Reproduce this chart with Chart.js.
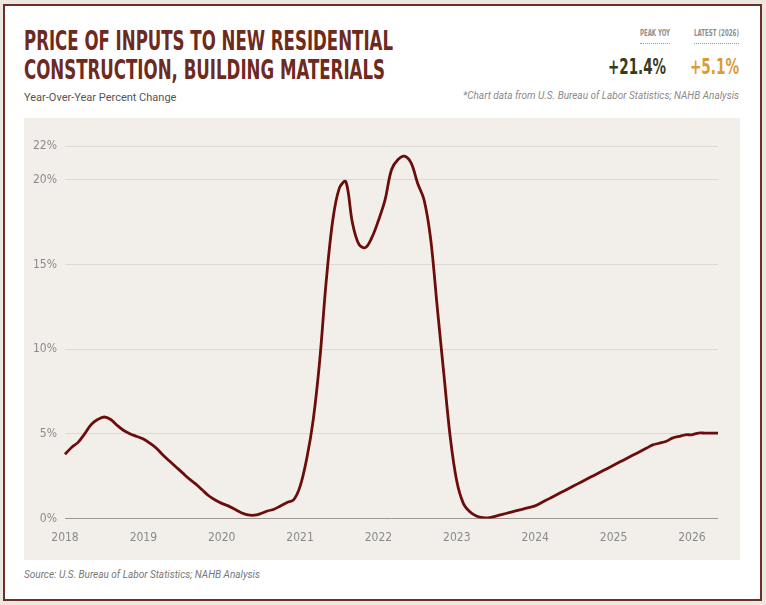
<!DOCTYPE html>
<html>
<head>
<meta charset="utf-8">
<script src="https://cdn.jsdelivr.net/npm/chart.js@4"></script>
<style>
  html, body { margin: 0; padding: 0; }
  body { width: 766px; height: 605px; background: #ebe7e1; position: relative; overflow: hidden;
         font-family: 'Liberation Sans Narrow', 'DejaVu Sans Condensed', Roboto, sans-serif; }
  #card { position: absolute; left: 3px; top: 4px; width: 759px; height: 597px; box-sizing: border-box;
          border: 2px solid #6b2f25; background: #ffffff; }
  .abs { position: absolute; white-space: nowrap; }
  .fit { transform-origin: left top; display: inline-block; }
  .title { color: #6e2a1c; font-weight: bold; font-size: 27px; line-height: 27px;
           font-family: 'Liberation Sans Narrow', 'DejaVu Sans Condensed', sans-serif; }
  .sub { color: #555; font-size: 11px; font-family: Roboto, sans-serif; }
  .kw { font-size: 9px; line-height: 9px; }
  .kl { color: #8f8f8f; font-size: 9px; line-height: 9px; font-weight: bold;
        font-family: 'Liberation Sans Narrow', 'DejaVu Sans Condensed', sans-serif; }
  .dots { position: absolute; height: 0; border-top: 1px dotted #999; }
  .kv { font-weight: bold; font-size: 21px; line-height: 21px;
        font-family: 'Liberation Sans Narrow', 'DejaVu Sans Condensed', sans-serif; }
  .note { color: #8a8a8a; font-size: 10px; font-style: italic; font-family: Roboto, sans-serif; }
  #panel { position: absolute; left: 24px; top: 118px; width: 716px; height: 442px; background: #f2efea; }
  #chartBox { position: absolute; left: 0; top: 0; width: 716px; height: 442px; }
</style>
</head>
<body>
<div id="card"></div>
<div class="abs" style="left:24px;top:27px;"><span class="fit title" data-w="369">PRICE OF INPUTS TO NEW RESIDENTIAL</span></div>
<div class="abs" style="left:24px;top:56px;"><span class="fit title" data-w="361">CONSTRUCTION, BUILDING MATERIALS</span></div>
<div class="abs sub" style="left:24px;top:91px;">Year-Over-Year Percent Change</div>

<div class="abs kw" style="left:640px;top:29px;"><span class="fit kl" data-w="30">PEAK YOY</span></div>
<div class="abs kw" style="left:694px;top:29px;"><span class="fit kl" data-w="45">LATEST (2026)</span></div>
<div class="dots" style="left:640px;top:43px;width:30px;"></div>
<div class="dots" style="left:694px;top:43px;width:45px;"></div>
<div class="abs" style="left:608px;top:57px;"><span class="fit kv" data-w="58" style="color:#363b20;">+21.4%</span></div>
<div class="abs" style="left:690px;top:57px;"><span class="fit kv" data-w="49" style="color:#d99b3a;">+5.1%</span></div>
<div class="abs note" style="right:27px;top:90px;">*Chart data from U.S. Bureau of Labor Statistics; NAHB Analysis</div>

<div id="panel"><div id="chartBox"><canvas id="c"></canvas></div></div>
<div class="abs note" style="left:24px;top:569px;color:#777;">Source: U.S. Bureau of Labor Statistics; NAHB Analysis</div>

<script>
// Monthly, Jan 2018 .. May 2026
const startYear = 2018;
const months = [];
for (let i = 0; i < 101; i++) {
  const y = startYear + Math.floor(i / 12);
  const m = (i % 12) + 1;
  months.push(y + '-' + (m < 10 ? '0' + m : m));
}
const yoyChange = [
  3.8, 4.2, 4.5, 5.0, 5.55, 5.85, 6.0, 5.85, 5.5, 5.2, 5.0, 4.85,
  4.7, 4.45, 4.15, 3.75, 3.4, 3.05, 2.7, 2.35, 2.05, 1.7, 1.35, 1.1,
  0.9, 0.75, 0.55, 0.35, 0.22, 0.2, 0.3, 0.45, 0.55, 0.75, 0.95, 1.1,
  1.9, 3.5, 5.8, 9.3, 14.0, 17.6, 19.5, 19.9, 17.5, 16.2, 16.0, 16.6,
  17.6, 18.8, 20.6, 21.2, 21.4, 21.0, 19.8, 18.8, 16.5, 12.5, 8.6, 4.8,
  2.2, 0.9, 0.4, 0.15, 0.05, 0.05, 0.15, 0.25, 0.35, 0.45, 0.55, 0.65,
  0.75, 0.95, 1.15, 1.35, 1.55, 1.75, 1.95, 2.15, 2.35, 2.55, 2.75, 2.95,
  3.15, 3.35, 3.55, 3.75, 3.95, 4.15, 4.35, 4.45, 4.55, 4.75, 4.85, 4.95,
  4.95, 5.05, 5.05, 5.05, 5.05
];
const yTickValues = [0, 5, 10, 15, 20, 22];

// fit condensed headline text to reference widths
document.querySelectorAll('.fit').forEach(el => {
  const w = el.getBoundingClientRect().width;
  const t = parseFloat(el.dataset.w);
  if (w > 0) el.style.transform = 'scaleX(' + (t / w) + ')';
});

const tickFont = { family: "'Liberation Sans Narrow', 'DejaVu Sans Condensed', sans-serif", size: 12 };

new Chart(document.getElementById('c'), {
  type: 'line',
  data: {
    labels: months,
    datasets: [{
      data: yoyChange,
      borderColor: '#6b0d0a',
      borderWidth: 2.8,
      pointRadius: 0,
      tension: 0.35,
      fill: false
    }]
  },
  options: {
    responsive: true,
    maintainAspectRatio: false,
    animation: false,
    layout: { padding: { top: 28, right: 22, bottom: 11, left: 0 } },
    plugins: { legend: { display: false }, tooltip: { enabled: false } },
    scales: {
      x: {
        type: 'category',
        offset: false,
        grid: { display: false },
        border: { display: false },
        ticks: {
          autoSkip: false,
          maxRotation: 0,
          color: '#8a8a8a',
          font: tickFont,
          padding: 4,
          callback: function(v, i) { return i % 12 === 0 ? months[i].slice(0, 4) : ''; }
        }
      },
      y: {
        min: 0,
        max: 22,
        afterBuildTicks: axis => { axis.ticks = yTickValues.map(v => ({ value: v })); },
        grid: {
          drawTicks: false,
          color: ctx => ctx.tick && ctx.tick.value === 0 ? '#9a9794' : '#dcd8d2',
          lineWidth: 1
        },
        border: { display: false },
        ticks: {
          color: '#8a8a8a',
          font: tickFont,
          padding: 8,
          callback: v => v + '%'
        },
        afterFit: axis => { axis.width = 41; }
      }
    }
  }
});
</script>
</body>
</html>
